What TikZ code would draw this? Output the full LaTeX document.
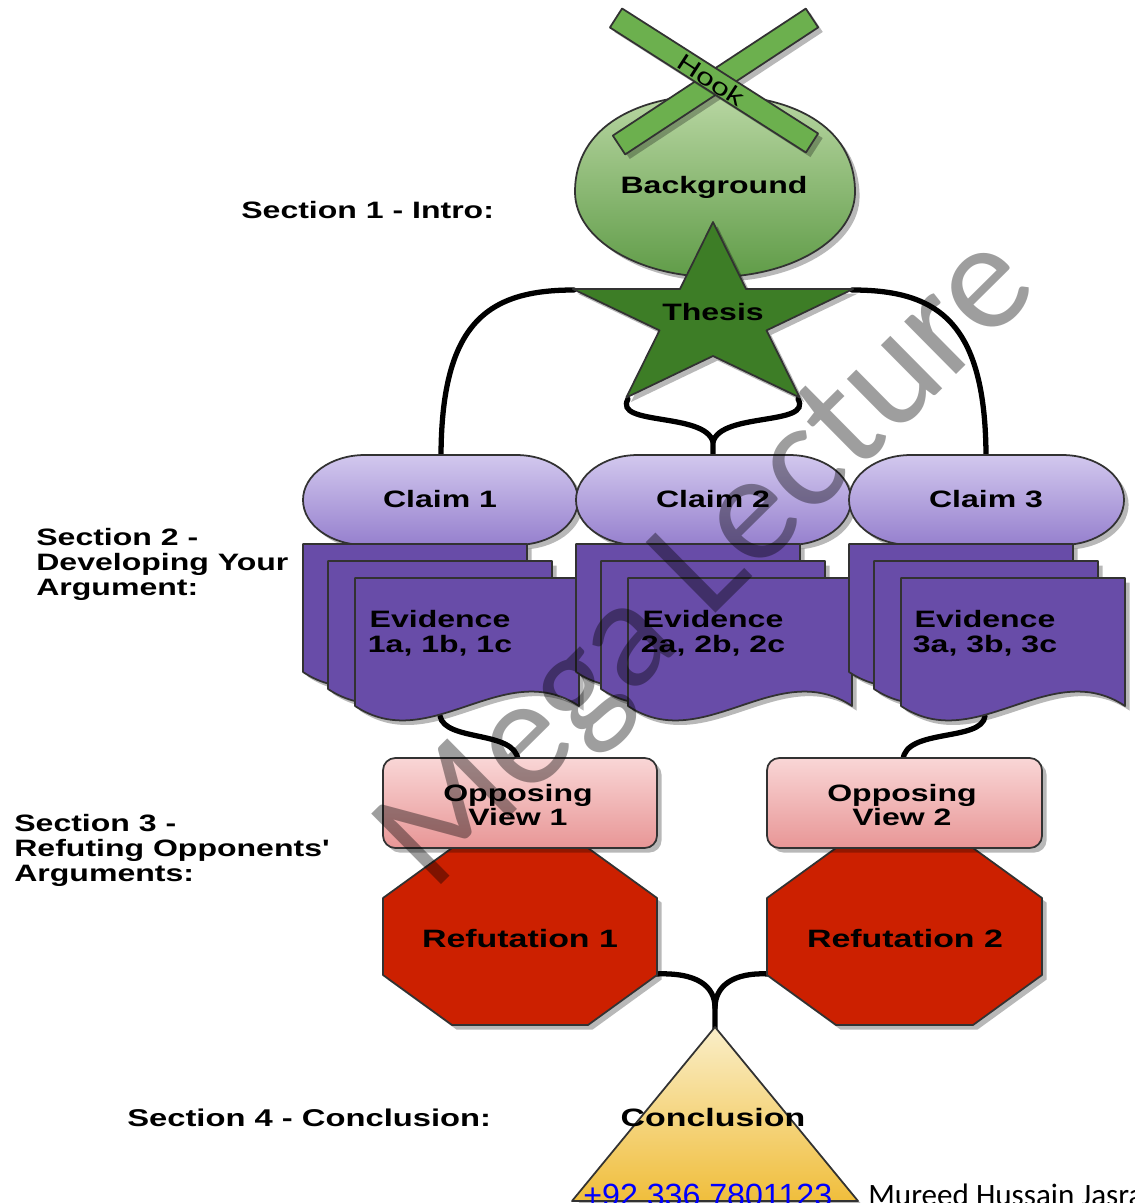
\documentclass[tikz,border=0pt]{standalone}
\usepackage{fontspec}
\usetikzlibrary{shadows}
\newfontfamily\wf[FakeStretch=1.35]{Liberation Sans}
\newfontfamily\calfont{Carlito}
\newfontfamily\arialfont{Liberation Sans}
\definecolor{bordc}{RGB}{50,50,50}
\definecolor{bgtop}{RGB}{184,214,162}
\definecolor{bgbot}{RGB}{96,156,72}
\definecolor{starc}{RGB}{61,125,38}
\definecolor{hookc}{RGB}{108,176,78}
\definecolor{cltop}{RGB}{210,200,238}
\definecolor{clbot}{RGB}{150,128,206}
\definecolor{evic}{RGB}{104,76,168}
\definecolor{opptop}{RGB}{249,214,214}
\definecolor{oppbot}{RGB}{232,150,150}
\definecolor{refc}{RGB}{204,32,0}
\definecolor{tritop}{RGB}{250,238,200}
\definecolor{tribot}{RGB}{240,190,60}
\definecolor{linkc}{RGB}{0,0,255}
\tikzset{
  bord/.style={draw=bordc, line width=1pt, line join=round},
  shd/.style={drop shadow={shadow xshift=2.6pt, shadow yshift=-2.6pt, opacity=0.28, fill=black}},
  conn/.style={line width=3pt, black, line cap=round},
  lbl/.style={font=\wf\bfseries\fontsize{13.5}{14.2}\selectfont, text=black, inner sep=0pt},
  lblbig/.style={font=\wf\bfseries\fontsize{14.3}{15}\selectfont, text=black, inner sep=0pt},
}
\begin{document}
\begin{tikzpicture}[x=0.02cm,y=-0.02cm]
\useasboundingbox (0,0) rectangle (1134,1203);
\clip (0,0) rectangle (1134,1203);
\fill[white] (0,0) rectangle (1134,1203);

% connector end points
\coordinate (thL) at (574,290);
\coordinate (thR) at (852,290);
\coordinate (thBL) at (628,399);
\coordinate (thBR) at (798,399);
\coordinate (mj) at (713,442);
\coordinate (c1t) at (441,458);
\coordinate (c2t) at (713,458);
\coordinate (c3t) at (986,458);
\coordinate (e1b) at (440,716);
\coordinate (e3b) at (985,716);
\coordinate (o1t) at (518,760);
\coordinate (o2t) at (903,760);
\coordinate (r1c) at (655,974);
\coordinate (r2c) at (769,974);
\coordinate (tj) at (715,1008);
\coordinate (tri) at (715,1029);

% connectors
\draw[conn] (thL) .. controls (488,290) and (441,322) .. (c1t);
\draw[conn] (thR) .. controls (938,290) and (986,322) .. (c3t);
\draw[conn] (thBL) .. controls (613,426) and (705,412) .. (mj) -- (c2t);
\draw[conn] (thBR) .. controls (813,426) and (721,412) .. (mj);
\draw[conn] (e1b) .. controls (445,742) and (515,730) .. (o1t);
\draw[conn] (e3b) .. controls (982,742) and (905,728) .. (o2t);
\draw[conn] (r1c) .. controls (697,972) and (715,986) .. (tj) -- (tri);
\draw[conn] (r2c) .. controls (733,972) and (715,986) .. (tj);

% Background
\path[bord, shd, top color=bgtop, bottom color=bgbot]
  (575,192) .. controls (575,240) and (640,277) .. (715,277)
  .. controls (790,277) and (855,240) .. (855,192)
  .. controls (855,125) and (790,95) .. (715,95)
  .. controls (640,95) and (575,125) .. (575,192) -- cycle;
% Hook bars
\path[bord, shd, fill=hookc] (612.8,135.6) -- (805.8,8.6) -- (818.2,27.4) -- (625.2,154.4) -- cycle;
\path[bord, shd, fill=hookc] (609.9,27.5) -- (622.1,8.5) -- (818.1,133.5) -- (805.9,152.5) -- cycle;
% Thesis star
\path[bord, shd, fill=starc] (713,222) -- (746.1,289.1) -- (853.2,289) -- (766.5,330.4) -- (799.7,397.5)
  -- (713,356) -- (626.3,397.5) -- (659.5,330.4) -- (572.8,289) -- (679.9,289.1) -- cycle;

% Claims
\foreach \d in {0,273,546} {
  \path[bord, shd, top color=cltop, bottom color=clbot]
    (365+\d,455) -- (516+\d,455) arc[start angle=-90, end angle=90, x radius=62, y radius=45]
    -- (365+\d,545) arc[start angle=90, end angle=270, x radius=62, y radius=45] -- cycle;
}
% Evidence stacks
\foreach \d in {0,273,546} {
  \foreach \a/\t/\yb in {303/544/672, 328/561/689, 355/578/706} {
    \path[bord, shd, fill=evic] (\a+\d,\t) -- (\a+224+\d,\t) -- (\a+224+\d,\yb)
      .. controls (\a+149+\d,\yb-50) and (\a+75+\d,\yb+50) .. (\a+\d,\yb) -- cycle;
  }
}

% Refutation octagons
\path[bord, shd, fill=refc] (452,848) -- (588,848) -- (657,898) -- (657,975) -- (588,1025) -- (452,1025) -- (383,975) -- (383,898) -- cycle;
\path[bord, shd, fill=refc] (836,848) -- (973,848) -- (1042,898) -- (1042,975) -- (973,1025) -- (836,1025) -- (767,975) -- (767,898) -- cycle;
% Opposing view boxes
\path[bord, shd, top color=opptop, bottom color=oppbot, rounded corners=7pt] (383,758) rectangle (657,848);
\path[bord, shd, top color=opptop, bottom color=oppbot, rounded corners=7pt] (767,758) rectangle (1042,848);
% Conclusion triangle
\path[bord, shd, top color=tritop, bottom color=tribot] (715,1027) -- (858,1201) -- (572,1201) -- cycle;

% texts in shapes
\node[font=\wf\fontsize{13.5}{14}\selectfont, rotate=-33, inner sep=0pt] (hook) at (711,80) {Hook};
\node[lbl] (bg) at (714,187) {Background};
\node[lbl] (thesis) at (713,312) {Thesis};
\node[lbl] (claim1) at (440,499) {Claim 1};
\node[lbl] (claim2) at (713,499) {Claim 2};
\node[lbl] (claim3) at (986,499) {Claim 3};
\node[lbl, align=center] (ev1) at (440,633) {Evidence\\1a, 1b, 1c};
\node[lbl, align=center] (ev2) at (713,633) {Evidence\\2a, 2b, 2c};
\node[lbl, align=center] (ev3) at (985,633) {Evidence\\3a, 3b, 3c};
\node[lbl, align=center] (opp1) at (518,805) {Opposing\\View 1};
\node[lbl, align=center] (opp2) at (902,805) {Opposing\\View 2};
\node[lblbig] (ref1) at (520,939) {Refutation 1};
\node[lblbig] (ref2) at (905,939) {Refutation 2};
\node[lblbig] (concl) at (713,1118) {Conclusion};

% section labels
\node[lbl, anchor=west] (sec1) at (241,210) {Section 1 - Intro:};
\node[lbl, anchor=west, align=left] (sec2) at (36,564) {Section 2 -\\Developing Your\\Argument:};
\node[lbl, anchor=west, align=left] (sec3) at (14,850) {Section 3 -\\Refuting Opponents'\\Arguments:};
\node[font=\wf\bfseries\fontsize{13.8}{15}\selectfont, text=black, inner sep=0pt, anchor=west] (sec4) at (127,1118) {Section 4 - Conclusion:};

% watermark
\node[font=\calfont\fontsize{88}{88}\selectfont, text=black, text opacity=0.38, rotate=44.7, anchor=base west, inner sep=0pt] (wm) at (432,894) {Mega Lecture};

% footer
\node[font=\arialfont\fontsize{18.3}{20}\selectfont, text=linkc, anchor=base west, inner sep=0pt] (phone) at (583,1206) {+92 336 7801123};
\node[font=\calfont\fontsize{17.7}{20}\selectfont, text=black, anchor=base west, inner sep=0pt] (author) at (868,1205) {Mureed Hussain Jasra};
\end{tikzpicture}
\end{document}
